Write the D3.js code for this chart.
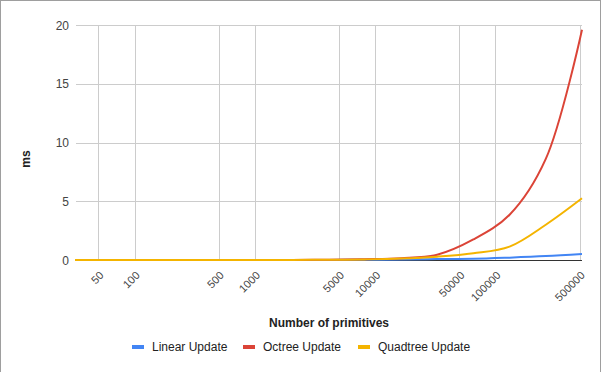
<!DOCTYPE html>
<html><head><meta charset="utf-8">
<script src="https://cdn.jsdelivr.net/npm/d3@7"></script>
<style>
html,body{margin:0;padding:0;background:#fff;}
svg{display:block;font-family:Arial,"Liberation Sans",sans-serif;}
</style></head>
<body><svg id="c" width="601" height="372"></svg>
<script>
const primitives = [32,64,128,256,512,1024,2048,4096,8192,16384,32768,65536,131072,262144,524288];
const linearUpdate   = [0,0,0,0,0,0,0,0.01,0.02,0.04,0.08,0.1,0.2,0.33,0.52];
const octreeUpdate   = [0,0,0,0,0,0,0.01,0.03,0.07,0.15,0.45,1.75,3.85,8.6,19.6];
const quadtreeUpdate = [0,0,0,0,0,0,0.01,0.02,0.05,0.12,0.28,0.57,1.14,3.0,5.25];
const xTicks = [50,100,500,1000,5000,10000,50000,100000,500000];
const yTicks = [0,5,10,15,20];
const seriesNames = ["Linear Update","Octree Update","Quadtree Update"];
const seriesColors = ["#4285F4","#DB4437","#F4B400"];

const svg = d3.select("#c");
// outer frame
svg.append("rect").attr("x",0.5).attr("y",0.5).attr("width",600).attr("height",372).attr("fill","none").attr("stroke","#9e9e9e");

const x = d3.scaleLog().domain([32,524288]).range([75,582]);
const y = d3.scaleLinear().domain([0,20]).range([260,25]);

// gridlines
const g = svg.append("g");
g.selectAll(".hg").data(yTicks.filter(d=>d>0)).enter().append("line")
  .attr("x1",76).attr("x2",582).attr("y1",d=>Math.round(y(d))+0.5).attr("y2",d=>Math.round(y(d))+0.5)
  .attr("stroke","#cccccc");
g.selectAll(".vg").data(xTicks).enter().append("line")
  .attr("x1",d=>Math.round(x(d))+0.5).attr("x2",d=>Math.round(x(d))+0.5).attr("y1",25).attr("y2",260)
  .attr("stroke","#cccccc");

// y labels
svg.selectAll(".yl").data(yTicks).enter().append("text")
  .attr("x",69).attr("y",d=>y(d)+4.5).attr("text-anchor","end")
  .attr("font-size",12).attr("fill","#444").text(d=>d);

// x labels
svg.selectAll(".xl").data(xTicks).enter().append("text")
  .attr("transform",d=>`translate(${x(d)+6},${276}) rotate(-45)`)
  .attr("text-anchor","end").attr("font-size",11).attr("fill","#444")
  .text(d=>d);

// baseline
svg.append("line").attr("x1",76).attr("x2",582).attr("y1",260.5).attr("y2",260.5).attr("stroke","#333");

// lines
const allSeries = [linearUpdate, octreeUpdate, quadtreeUpdate];
const line = d3.line().x((d,i)=>x(primitives[i])).y(d=>y(d)).curve(d3.curveCatmullRom.alpha(0.5));
[0,1,2].forEach(k=>{
  svg.append("path").datum(allSeries[k]).attr("d",line)
    .attr("fill","none").attr("stroke",seriesColors[k]).attr("stroke-width",2);
});

// axis titles
svg.append("text").attr("transform","translate(30,159) rotate(-90)").attr("text-anchor","middle")
  .attr("font-size",12).attr("font-weight","bold").attr("fill","#222").text("ms");
svg.append("text").attr("x",329).attr("y",327).attr("text-anchor","middle")
  .attr("font-size",12).attr("font-weight","bold").attr("fill","#222").text("Number of primitives");

// legend
const legendX = [132,243,358];
seriesNames.forEach((n,i)=>{
  svg.append("rect").attr("x",legendX[i]).attr("y",345).attr("width",12).attr("height",4).attr("fill",seriesColors[i]);
  svg.append("text").attr("x",legendX[i]+20).attr("y",351).attr("font-size",12).attr("fill","#222").text(n);
});
</script></body></html>
